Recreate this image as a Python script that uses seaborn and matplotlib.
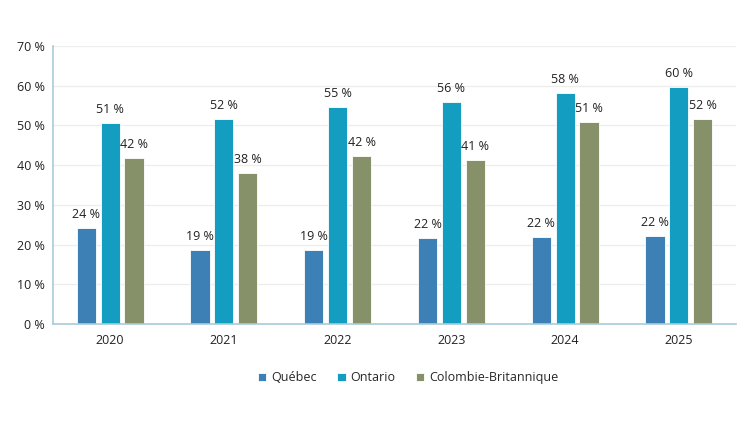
import matplotlib

matplotlib.use('Agg')
import matplotlib.pyplot as plt
import pandas as pd
import seaborn as sns

annees = ["2020", "2021", "2022", "2023", "2024", "2025"]
provinces = ["Québec", "Ontario", "Colombie-Britannique"]
quebec = [24.1, 18.6, 18.6, 21.7, 21.9, 22.2]
ontario = [50.7, 51.6, 54.7, 55.8, 58.1, 59.6]
colombie_britannique = [41.9, 38.0, 42.2, 41.4, 50.9, 51.7]
yticks = [0, 10, 20, 30, 40, 50, 60, 70]

couleurs = ["#3c80b5", "#139dc0", "#86916a"]

df = pd.DataFrame({
    "annee": annees * 3,
    "province": [p for p in provinces for _ in annees],
    "valeur": quebec + ontario + colombie_britannique,
})

sns.set_style("white")
plt.rcParams['font.family'] = ['Open Sans', 'DejaVu Sans']

fig = plt.figure(figsize=(7.5, 4.22), dpi=100)
ax = fig.add_axes([0.071, 0.232, 0.91, 0.659])

sns.barplot(data=df, x="annee", y="valeur", hue="province", order=annees,
            hue_order=provinces, palette=couleurs, saturation=1,
            width=0.63, gap=0.2, edgecolor="white", linewidth=0.6, ax=ax)

for cont in ax.containers:
    ax.bar_label(cont, labels=[f"{int(v + 0.5)} %" for v in cont.datavalues],
                 padding=5, fontsize=9, color="#222222")

ax.set_ylim(0, 70)
ax.set_yticks(yticks)
ax.set_yticklabels([f"{t} %" for t in yticks], fontsize=9, color="#222222")
ax.tick_params(axis="x", labelsize=9, colors="#222222", length=0, pad=7)
ax.tick_params(axis="y", length=0, pad=6)
ax.set_xlim(-0.5, 5.5)
ax.set_xlabel("")
ax.set_ylabel("")
ax.yaxis.grid(True, color="#ededed", linewidth=0.9)
ax.set_axisbelow(True)

for s in ["top", "right"]:
    ax.spines[s].set_visible(False)
for s in ["left", "bottom"]:
    ax.spines[s].set_color("#a9cbd9")
    ax.spines[s].set_linewidth(1.2)

handles, labels = ax.get_legend_handles_labels()
ax.legend(handles, labels, loc="upper center", bbox_to_anchor=(0.52, -0.13),
          ncol=3, frameon=False, fontsize=9, handlelength=0.7,
          handleheight=0.7, handletextpad=0.4, columnspacing=1.6)

fig.savefig("out.png", dpi=100)
